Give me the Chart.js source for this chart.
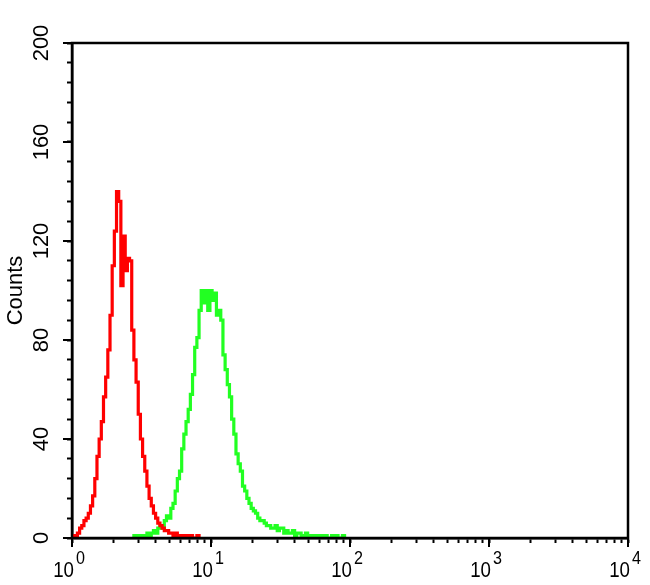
<!DOCTYPE html>
<html>
<head>
<meta charset="utf-8">
<script src="https://cdn.jsdelivr.net/npm/chart.js@4/dist/chart.umd.min.js"></script>
<style>
html,body{margin:0;padding:0;background:#ffffff;}
#wrap{width:650px;height:585px;position:relative;}
</style>
</head>
<body>
<div id="wrap"><canvas id="c" width="650" height="585"></canvas></div>
<script>
// ---- data (log-scaled channels: 256 channels per decade, 4 channels per bin) ----
const channelsPerDecade = 256;
const binWidth = 4;

const redStartChannel = 0;
const redCounts = [0,1,1,2,4,5,7,8,10,13,17,24,33,40,47,57,65,76,90,110,124,140,136,102,122,108,113,112,84,72,63,50,40,33,27,21,16,13,10,8,6,5,4,3,3,2,2,1,2,1,1,0,1,1,0,1,0,0,1,0];

const greenStartChannel = 112;
const greenCounts = [0,1,0,1,0,1,1,2,1,2,
  3,2,4,5,4,7,9,8,12,14,
  19,24,27,36,42,47,52,58,66,77,
  81,92,100,95,100,92,100,96,99,90,
  92,88,74,68,62,57,48,42,34,30,
  27,21,19,16,14,12,11,10,8,7,
  7,6,5,5,4,4,5,3,4,4,
  2,3,2,2,3,1,2,2,1,1,
  2,1,1,0,1,1,0,1,0,1,
  0,0,1,0,1,0,0,1,0];

const xTickExponents = [0,1,2,3,4];
const xTickBase = '10';
const yMajorTicks = [0,40,80,120,160,200];
const yMinorStep = 8;
const yTitle = 'Counts';

const toPoints = (start, counts) => counts.map((c, i) => ({
  x: Math.pow(10, (start + i * binWidth) / channelsPerDecade),
  y: c
}));

const FONT = '"Liberation Sans", Arial, Helvetica, sans-serif';

const framePlugin = {
  id: 'frame',
  afterDraw(chart) {
    const {ctx, chartArea: a, scales} = chart;
    const x = scales.x, y = scales.y;
    ctx.save();
    ctx.strokeStyle = '#000';
    ctx.lineWidth = 2.5;
    ctx.strokeRect(a.left, a.top, a.right - a.left, a.bottom - a.top);
    ctx.lineWidth = 2;
    ctx.beginPath();
    xTickExponents.forEach(e => {
      const px = x.getPixelForValue(Math.pow(10, e));
      ctx.moveTo(px, a.bottom);
      ctx.lineTo(px, a.bottom + 9);
    });
    yMajorTicks.forEach(v => {
      const py = y.getPixelForValue(v);
      ctx.moveTo(a.left - 9, py);
      ctx.lineTo(a.left, py);
    });
    ctx.stroke();
    ctx.fillStyle = '#000';
    ctx.textBaseline = 'alphabetic';
    const sx = 0.85;
    xTickExponents.forEach(e => {
      const px = x.getPixelForValue(Math.pow(10, e));
      ctx.save();
      ctx.translate(px, 0);
      ctx.scale(sx, 1);
      ctx.font = '22px ' + FONT;
      ctx.textAlign = 'right';
      ctx.fillText(xTickBase, 2 / sx, 577);
      ctx.font = '19px ' + FONT;
      ctx.textAlign = 'left';
      ctx.fillText(String(e), 4 / sx, 564);
      ctx.restore();
    });
    ctx.restore();
  }
};

new Chart(document.getElementById('c'), {
  type: 'line',
  data: {
    datasets: [
      {
        label: 'control',
        data: toPoints(redStartChannel, redCounts),
        borderColor: '#ff0000',
        borderWidth: 3.2,
        pointRadius: 0,
        stepped: 'middle',
        fill: false
      },
      {
        label: 'sample',
        data: toPoints(greenStartChannel, greenCounts),
        borderColor: '#22ff22',
        borderWidth: 3.2,
        pointRadius: 0,
        stepped: 'middle',
        fill: false
      }
    ]
  },
  options: {
    responsive: false,
    animation: false,
    devicePixelRatio: 1,
    layout: { padding: { top: 43, right: 22, left: 0, bottom: 0 }, autoPadding: false },
    plugins: { legend: { display: false }, tooltip: { enabled: false } },
    scales: {
      x: {
        type: 'logarithmic',
        min: 1,
        max: 10000,
        afterBuildTicks(scale) {
          scale.ticks = scale.ticks.filter(t => {
            const m = t.value / Math.pow(10, Math.floor(Math.log10(t.value) + 1e-9));
            return Math.abs(m - Math.round(m)) < 1e-6;
          });
        },
        afterFit(scale) { scale.height = 47; },
        ticks: { display: false, autoSkip: false },
        grid: { display: true, drawOnChartArea: false, drawTicks: true, tickLength: 5, tickColor: '#000', tickWidth: 2, color: '#000' },
        border: { display: true, color: '#000', width: 2.5 }
      },
      y: {
        type: 'linear',
        min: 0,
        max: 200,
        afterFit(scale) { scale.width = 72; },
        ticks: {
          stepSize: yMinorStep,
          autoSkip: false,
          minRotation: 90,
          maxRotation: 90,
          crossAlign: 'center',
          padding: 7,
          color: '#000',
          font: { family: FONT, size: 22 },
          callback: v => yMajorTicks.includes(v) ? String(v) : ''
        },
        title: {
          display: true,
          text: yTitle,
          color: '#000',
          font: { family: FONT, size: 22 },
          padding: { top: 3, bottom: 0 }
        },
        grid: { display: true, drawOnChartArea: false, drawTicks: true, tickLength: 5, tickColor: '#000', tickWidth: 2, color: '#000' },
        border: { display: true, color: '#000', width: 2.5 }
      }
    }
  },
  plugins: [framePlugin]
});
</script>
</body>
</html>
